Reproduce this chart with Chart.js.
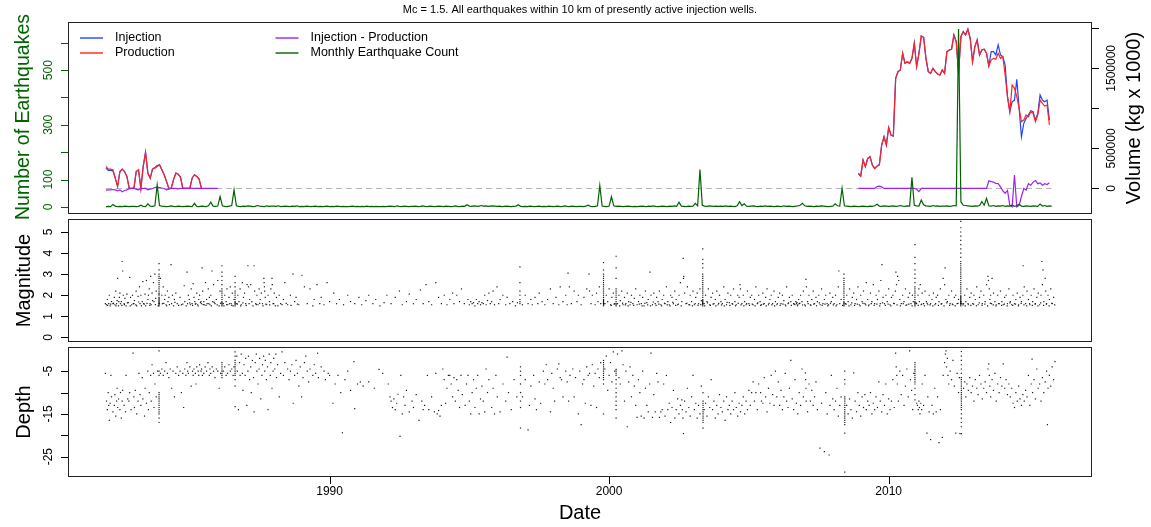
<!DOCTYPE html>
<html><head><meta charset="utf-8">
<script src="https://cdn.jsdelivr.net/npm/chart.js@4.4.1/dist/chart.umd.min.js"></script>
<style>
html,body{margin:0;padding:0;background:#fff;}
body{width:1151px;height:527px;position:relative;overflow:hidden;}
canvas{position:absolute;left:0;}
#c1{top:0}#c2{top:216px}#c3{top:345px}
</style></head><body>
<canvas id="c1" width="1151" height="226"></canvas>
<canvas id="c2" width="1151" height="130"></canvas>
<canvas id="c3" width="1151" height="182"></canvas>
<script>
// ---------------- DATA ----------------
const titleText = 'Mc = 1.5. All earthquakes within 10 km of presently active injection wells.';
const legendLabels = ['Injection', 'Production', 'Injection - Production', 'Monthly Earthquake Count'];
const xTicks = [1990, 2000, 2010];
const countTicks = [0, 100, 200, 300, 400, 500, 600];
const countTickLabels = [0, 100, 300, 500];
const volTicks = [0, 500000, 1000000, 1500000, 2000000];
const volTickLabels = [0, 500000, 1500000];
const magTicks = [0, 1, 2, 3, 4, 5];
const magTickLabels = [0, 1, 2, 3, 4, 5];
const depthTicks = [-25, -20, -15, -10, -5];
const depthTickLabels = [-25, -15, -5];

// monthly earthquake count, Jan 1982 .. Nov 2015
const countStartYear = 1982.0;
const monthlyCount = [
 1,2,1,9,3,1,2,1,3,2,1,2,
 2,1,2,6,2,1,11,3,2,4,80,5,
 3,2,1,2,4,2,1,3,2,1,2,3,
 2,1,13,2,1,3,2,1,4,17,3,2,
 3,38,4,2,1,3,5,62,4,2,1,3,
 2,4,3,1,2,5,3,2,1,4,2,3,
 3,2,4,1,2,3,2,1,3,2,4,1,
 2,1,3,2,1,2,3,1,2,1,2,3,
 1,2,1,3,2,1,2,1,1,2,3,1,
 2,1,2,1,3,1,2,1,2,1,1,2,
 1,2,3,2,1,4,2,1,3,2,1,2,
 2,3,1,2,4,2,1,3,2,1,2,3,
 2,1,3,2,1,2,4,2,1,3,2,8,
 3,2,4,3,2,5,3,4,2,3,4,3,
 2,3,1,2,3,2,1,2,3,8,2,1,
 2,1,3,2,1,2,3,1,2,1,3,2,
 1,2,3,1,2,4,2,1,3,2,1,2,
 2,1,3,6,2,1,2,4,78,3,2,1,
 3,37,4,2,3,2,1,2,3,2,1,2,
 1,2,3,2,1,3,2,4,2,1,2,3,
 2,1,3,2,4,2,17,3,2,1,3,2,
 3,13,4,137,6,3,2,4,3,2,3,2,
 3,2,4,2,3,2,1,4,19,5,11,3,
 2,3,4,2,1,3,2,4,2,3,2,1,
 3,2,1,4,2,3,2,1,3,4,6,13,
 4,2,3,2,1,3,2,4,3,2,1,2,
 3,11,4,3,68,4,3,2,1,3,2,1,
 2,3,2,1,3,2,4,10,3,2,4,3,
 2,3,4,2,3,5,3,2,4,3,108,6,
 4,3,25,8,4,3,2,5,3,4,2,3,
 3,4,2,3,5,4,650,19,6,5,4,3,
 2,4,3,5,19,6,31,4,3,5,2,4,
 3,5,2,4,3,6,2,4,10,3,2,4,
 3,2,4,3,2,10,3,5,2,4,3
];

// monthly volumes in kg x 1000 (values listed in thousands)
const volEarlyStart = 1982.0;
const productionEarly = [275,242,242,233,129,25,212,242,212,150,0,0,0,212,233,0,275,450,192,129,242,254,275,296,233,171,88,0,0,108,192,179,142,0,0,0,0,129,171,150,117,0];
const injectionEarly  = [255,225,225,220,129,25,212,242,212,150,0,0,0,212,233,0,275,450,192,129,242,262,285,296,233,171,88,0,0,108,192,179,142,0,0,0,0,129,171,150,117,0];
const diffEarly = [-20,-17,-17,-13,-17,-29,-17,-40,-25,-17,-4,0,0,-8,-17,0,0,4,-17,-8,0,10,17,12,6,0,-17,-8,0,0,0,-4,0,0,0,0,0,0,0,0,0,0,0,0,0,0,0,0,0];
const volLateStart = 2008.917;
const productionLate = [187,154,354,271,375,396,292,250,279,292,542,646,542,762,667,654,1375,1458,1479,1688,1563,1583,1563,1625,1813,1521,1688,1904,1888,1625,1458,1438,1500,1458,1429,1417,1479,1438,1708,1729,1738,1917,1833,1438,1896,1958,1917,1988,1875,1583,1771,1854,1667,1729,1738,1688,1529,1604,1625,1613,1688,1625,1646,1417,1146,958,1292,1250,1146,1000,833,854,917,896,958,938,833,917,1104,1063,1029,1042,792];
const injectionLate  = [187,154,354,271,375,396,292,250,279,300,542,646,542,762,667,654,1375,1458,1479,1688,1563,1583,1563,1625,1813,1521,1688,1904,1888,1625,1458,1438,1500,1458,1429,1417,1479,1438,1708,1729,1738,1917,1833,1438,1896,1958,1917,1988,1875,1583,1771,1854,1667,1729,1738,1688,1529,1708,1708,1667,1792,1667,1646,1542,1146,958,1083,1100,1363,1000,646,813,875,917,971,958,854,938,1167,1104,1083,1104,854];
const diffLate = [0,0,0,0,0,0,0,0,25,30,20,0,0,0,0,0,0,0,0,0,0,0,0,0,0,-10,-40,0,0,0,0,0,0,0,0,0,0,0,0,0,0,0,0,0,0,0,0,0,0,0,0,0,0,0,0,0,96,85,80,62,60,20,-30,-60,-25,-210,-230,167,-230,-210,-100,0,-20,60,40,80,100,60,70,40,60,50,70];
const zeroLineYears = [1982.0, 2015.833];

// magnitude readings: [year, magnitude, year, magnitude, ...]
const mag1982 = [1981.98,1.6,1982.02,1.55,1982.05,1.8,1982.1,1.6,1982.12,2.0,1982.15,1.5,1982.2,1.7,1982.25,1.6,1982.3,1.9,1982.32,1.55,1982.35,2.2,1982.38,1.6,1982.4,1.75,1982.42,2.8,1982.45,1.5,1982.48,1.9,1982.5,2.1,1982.52,1.6,1982.55,1.7,1982.58,3.6,1982.6,3.15,1982.62,2.0,1982.65,1.6,1982.68,1.85,1982.72,1.5,1982.75,2.05,1982.8,1.65,1982.85,2.85,1982.88,1.9,1982.92,1.55,1982.95,2.0,1983.0,1.6,1983.02,1.75,1983.08,2.2,1983.1,1.5,1983.15,1.95,1983.2,2.4,1983.22,1.6,1983.25,2.0,1983.3,1.7,1983.32,2.65,1983.35,1.6,1983.4,2.05,1983.42,1.5,1983.45,2.7,1983.5,1.8,1983.52,2.0,1983.55,2.3,1983.58,1.6,1983.6,2.9,1983.62,1.55,1983.65,2.1,1983.7,2.6,1983.72,1.7,1983.75,3.0,1983.78,1.85,1983.8,2.2,1983.95,2.8,1984.0,2.0,1984.02,1.6,1984.05,2.4,1984.1,1.8,1984.12,2.0,1984.15,1.55,1984.2,2.2,1984.22,1.7,1984.25,1.9,1984.33,3.45,1984.35,1.6,1984.38,2.0,1984.42,1.5,1984.45,1.8,1984.5,2.1,1984.55,1.6,1984.65,1.9,1984.7,1.55,1984.8,2.45,1984.82,1.7,1984.9,3.1,1984.92,1.6,1984.95,2.0,1984.98,1.8,1985.02,1.55,1985.05,2.3,1985.08,1.6,1985.12,2.55,1985.15,1.9,1985.18,1.7,1985.22,1.6,1985.25,2.1,1985.28,1.55,1985.32,1.8,1985.35,2.0,1985.38,1.65,1985.42,1.6,1985.44,3.3,1985.46,2.2,1985.5,1.7,1985.52,1.55,1985.56,2.6,1985.6,1.8,1985.62,1.6,1985.66,2.3,1985.7,1.9,1985.72,1.55,1985.75,2.0,1985.79,3.15,1985.82,1.7,1985.85,2.5,1985.9,1.6,1985.95,1.8,1986.0,2.7,1986.05,1.5,1986.08,2.2,1986.2,1.6,1986.25,2.0,1986.3,1.7,1986.33,2.3,1986.36,1.55,1986.4,1.9,1986.45,2.4,1986.48,1.6,1986.52,2.1,1986.55,1.5,1986.58,1.8,1986.68,1.6,1986.72,2.0,1986.76,1.7,1986.8,2.3,1986.84,1.55,1986.88,2.6,1986.92,1.9,1986.96,2.1,1987.0,1.6,1987.05,2.5,1987.08,3.4,1987.1,2.4,1987.14,1.8,1987.18,2.5,1987.22,1.7,1987.3,3.4,1987.32,2.2,1987.36,1.6,1987.4,2.0,1987.44,1.55,1987.48,2.3,1987.52,1.8,1987.56,2.1,1987.6,1.6,1987.65,2.8,1987.66,2.6,1987.67,2.4,1987.68,2.2,1987.7,1.9,1987.75,1.55,1987.8,2.0,1987.85,1.7,1987.9,2.3,1987.94,2.8,1987.95,2.5,1987.98,1.6,1988.02,2.1,1988.06,1.5,1988.1,1.9,1988.2,2.0,1988.25,1.6,1988.35,1.8,1988.4,2.6,1988.5,1.55,1988.6,2.0,1988.69,3.0,1988.75,1.7,1988.8,1.9,1988.9,1.55,1989.01,2.95,1989.1,2.4,1989.2,1.6,1989.3,2.3,1989.4,1.5,1989.45,1.8,1989.55,2.5,1989.65,1.6,1989.7,1.9,1989.8,1.55,1989.91,2.6,1990.0,1.7];
const magLow1982 = [1982.06,1.52,1982.17,1.58,1982.27,1.62,1982.36,1.5,1982.46,1.7,1982.57,1.52,1982.66,1.56,1982.77,1.64,1982.87,1.5,1982.98,1.6,1983.07,1.54,1983.17,1.68,1983.27,1.5,1983.37,1.58,1983.47,1.62,1983.57,1.52,1983.67,1.75,1983.77,1.56,1983.87,1.5,1984.07,1.62,1984.17,1.5,1984.27,1.56,1984.47,1.66,1984.6,1.52,1984.75,1.58,1984.87,1.5,1985.0,1.64,1985.1,1.52,1985.2,1.58,1985.3,1.5,1985.4,1.7,1985.48,1.56,1985.58,1.52,1985.68,1.6,1985.77,1.5,1985.87,1.66,1985.98,1.54,1986.1,1.62,1986.22,1.5,1986.32,1.56,1986.42,1.6,1986.5,1.52,1986.7,1.58,1986.82,1.5,1986.9,1.64,1987.02,1.52,1987.12,1.6,1987.26,1.5,1987.38,1.56,1987.5,1.62,1987.62,1.5,1987.72,1.58,1987.86,1.54,1988.0,1.6,1988.15,1.5,1988.3,1.56,1988.45,1.62,1988.62,1.52,1988.85,1.58];
const mag1990 = [1990.15,2.1,1990.25,1.6,1990.35,1.8,1990.5,1.55,1990.65,2.0,1990.75,1.7,1990.9,1.6,1991.05,1.9,1991.15,1.55,1991.3,1.75,1991.4,2.0,1991.55,1.6,1991.65,1.8,1991.8,1.5,1991.95,1.65,1992.05,2.0,1992.2,1.6,1992.35,1.9,1992.5,2.2,1992.6,1.55,1992.75,1.7,1992.85,2.05,1993.0,1.6,1993.1,1.8,1993.25,2.25,1993.35,1.6,1993.45,2.5,1993.55,1.7,1993.65,1.55,1993.8,2.6,1993.9,1.9,1994.0,1.6,1994.1,2.0,1994.2,1.55,1994.3,1.8,1994.4,2.1,1994.45,1.6,1994.55,2.0,1994.65,1.7,1994.72,2.3,1994.82,1.6,1994.95,1.8,1995.0,1.55,1995.05,1.7,1995.1,1.6,1995.15,1.65,1995.2,1.5,1995.25,1.8,1995.3,1.6,1995.35,1.7,1995.4,1.55,1995.45,1.65,1995.5,1.6,1995.55,2.0,1995.6,1.55,1995.65,1.75,1995.7,2.1,1995.75,1.6,1995.8,1.7,1995.85,2.2,1995.9,1.55,1995.99,2.4,1996.05,1.6,1996.1,1.8,1996.2,2.0,1996.3,1.55,1996.35,1.9,1996.45,1.6,1996.55,1.7,1996.65,1.5,1996.72,1.65,1996.9,1.55,1997.0,2.0,1997.1,1.6,1997.2,1.8,1997.25,1.55,1997.35,1.9,1997.45,1.6,1997.5,2.1,1997.6,1.7,1997.7,1.55,1997.8,1.8,1997.9,2.3,1998.0,1.6,1998.1,1.9,1998.2,1.55,1998.25,2.4,1998.35,1.7,1998.45,2.0,1998.5,1.55,1998.53,3.05,1998.58,2.4,1998.65,1.6,1998.75,2.2,1998.85,1.7,1998.9,2.0,1999.0,1.55,1999.1,1.9,1999.2,2.3,1999.28,3.0,1999.3,2.2,1999.35,1.6,1999.4,2.0,1999.5,1.55,1999.55,2.1,1999.6,1.7,1999.65,2.4,1999.7,1.6];
const mag2000 = [1999.85,1.6,1999.9,2.0,1999.95,1.7,2000.0,2.3,2000.05,1.55,2000.1,1.9,2000.15,2.1,2000.2,1.6,2000.3,1.6,2000.35,2.0,2000.4,1.75,2000.45,2.2,2000.5,1.55,2000.55,1.9,2000.6,1.6,2000.65,2.1,2000.7,1.7,2000.75,1.55,2000.8,2.0,2000.85,1.6,2000.9,1.85,2000.95,2.3,2001.0,1.55,2001.05,1.7,2001.1,2.0,2001.15,1.6,2001.2,1.9,2001.25,1.5,2001.3,2.2,2001.35,1.65,2001.4,1.8,2001.46,3.1,2001.5,2.0,2001.55,1.55,2001.6,2.1,2001.65,1.6,2001.7,1.9,2001.75,1.7,2001.8,2.2,2001.85,1.55,2001.9,1.8,2001.95,2.0,2002.0,1.6,2002.05,2.4,2002.1,1.7,2002.15,1.55,2002.2,2.0,2002.25,1.9,2002.3,1.6,2002.35,2.2,2002.4,1.8,2002.45,1.55,2002.5,2.0,2002.55,2.6,2002.6,1.7,2002.65,3.75,2002.66,2.8,2002.67,2.9,2002.7,2.1,2002.75,1.6,2002.8,2.4,2002.85,1.55,2002.9,2.0,2002.95,1.7,2003.0,2.2,2003.05,1.55,2003.1,1.9,2003.15,2.1,2003.2,1.6,2003.25,2.3,2003.3,1.75,2003.4,1.6,2003.45,2.0,2003.5,1.7,2003.55,2.3,2003.6,1.55,2003.65,1.9,2003.7,2.1,2003.75,1.6,2003.8,1.8,2003.85,2.2,2003.9,1.55,2003.95,2.0,2004.0,1.7,2004.05,1.6,2004.1,2.4,2004.15,1.8,2004.2,1.55,2004.25,2.1,2004.3,1.65,2004.35,2.0,2004.4,1.6,2004.45,2.3,2004.5,1.7,2004.55,1.55,2004.6,2.0,2004.65,1.9,2004.68,2.5,2004.7,2.3,2004.75,1.6,2004.8,2.0,2004.85,1.7,2004.9,1.55,2004.95,2.2,2005.0,1.6,2005.05,1.9,2005.1,2.0,2005.15,1.55,2005.2,1.8,2005.25,2.4,2005.3,1.6,2005.35,2.0,2005.4,1.7,2005.45,1.55,2005.5,2.1,2005.55,1.6,2005.6,1.9,2005.65,2.3,2005.7,1.55,2005.75,1.8,2005.8,2.0,2005.85,1.6,2005.9,2.2,2005.95,1.7,2006.0,1.55,2006.05,1.9,2006.1,2.1,2006.15,1.6,2006.2,2.0,2006.25,1.75,2006.3,1.55,2006.35,2.4,2006.4,1.6,2006.45,1.9,2006.5,1.7,2006.55,2.0,2006.6,1.6,2006.65,1.55,2006.68,1.7,2006.7,1.6,2006.72,1.65,2006.75,1.55,2006.78,1.8,2006.8,1.6,2006.85,2.0,2006.9,1.7,2006.95,2.2,2007.0,1.55,2007.04,2.75,2007.06,2.4,2007.1,1.7,2007.15,2.0,2007.2,1.55,2007.25,1.8,2007.3,2.2,2007.35,1.6,2007.4,1.9,2007.45,1.7,2007.5,2.0,2007.55,1.55,2007.6,2.3,2007.65,1.6,2007.7,1.8,2007.75,2.0,2007.8,1.6,2007.85,1.55,2007.9,2.1,2007.95,1.7,2008.0,1.9,2008.05,1.6,2008.1,2.0,2008.15,1.55,2008.2,2.4,2008.22,3.15,2008.3,1.8];
const mag2008 = [2008.45,1.6,2008.5,2.0,2008.55,1.7,2008.6,2.3,2008.65,1.55,2008.7,1.9,2008.75,2.1,2008.8,1.6,2008.85,1.8,2008.9,2.4,2008.95,1.55,2009.0,2.0,2009.05,1.7,2009.1,2.2,2009.15,1.6,2009.2,2.6,2009.25,1.8,2009.3,1.55,2009.35,2.1,2009.4,1.7,2009.45,2.5,2009.5,1.6,2009.55,2.0,2009.6,1.8,2009.65,2.2,2009.7,1.6,2009.72,2.7,2009.76,3.45,2009.8,1.9,2009.85,1.6,2009.9,2.0,2009.95,1.7,2010.0,2.3,2010.05,1.55,2010.1,1.9,2010.15,2.0,2010.2,1.6,2010.24,2.2,2010.26,3.1,2010.28,2.5,2010.32,2.9,2010.36,2.7,2010.4,1.8,2010.45,1.6,2010.5,2.0,2010.55,1.7,2010.6,2.3,2010.65,1.55,2010.7,1.9,2010.75,2.1,2010.8,1.6,2010.85,2.0,2010.88,1.7,2011.0,1.6,2011.05,2.0,2011.08,2.3,2011.1,1.7,2011.13,2.5,2011.16,1.55,2011.2,2.1,2011.25,1.6,2011.3,2.2,2011.35,1.7,2011.4,1.55,2011.45,2.0,2011.5,1.6,2011.55,1.8,2011.6,2.1,2011.65,1.55,2011.7,1.9,2011.75,2.0,2011.8,1.7,2011.85,2.3,2011.9,1.6,2011.95,2.8,2012.0,2.5,2012.02,3.3,2012.05,1.8,2012.1,1.7,2012.15,2.0,2012.2,1.6,2012.25,2.2,2012.3,1.55,2012.35,1.9,2012.4,2.0,2012.45,1.6,2012.5,1.8,2012.62,1.6,2012.68,1.6,2012.72,2.0,2012.76,1.7,2012.8,2.3,2012.85,1.55,2012.9,1.9,2012.95,2.1,2013.0,1.6,2013.05,2.0,2013.1,1.8,2013.15,2.4,2013.2,1.55,2013.25,1.9,2013.3,2.2,2013.35,1.6,2013.4,2.0,2013.45,1.7,2013.5,2.5,2013.55,2.9,2013.57,2.7,2013.6,2.3,2013.62,1.8,2013.65,2.0,2013.68,1.6,2013.7,2.8,2013.75,2.1,2013.8,1.7,2013.85,1.55,2013.9,2.0,2013.95,1.6,2014.0,2.2,2014.05,1.7,2014.1,1.55,2014.15,1.9,2014.2,2.0,2014.25,1.6,2014.3,2.3,2014.35,1.7,2014.4,1.55,2014.45,2.0,2014.5,1.6,2014.55,1.8,2014.6,2.1,2014.65,1.55,2014.7,1.9,2014.75,1.7,2014.8,2.0,2014.81,3.4,2014.85,2.4,2014.9,1.6,2014.95,2.2,2015.0,1.8,2015.05,1.55,2015.1,2.0,2015.15,1.7,2015.2,2.3,2015.25,1.6,2015.3,1.9,2015.35,2.1,2015.4,1.55,2015.45,2.0,2015.48,3.6,2015.5,2.5,2015.52,3.2,2015.55,1.7,2015.6,2.8,2015.62,2.2,2015.65,1.6,2015.7,2.0,2015.75,1.8,2015.8,2.3,2015.85,1.6,2015.9,1.9];
const magLow2000 = [2000.08,1.52,2000.18,1.58,2000.38,1.5,2000.48,1.62,2000.58,1.54,2000.68,1.5,2000.78,1.66,2000.88,1.52,2001.08,1.58,2001.18,1.5,2001.28,1.62,2001.38,1.54,2001.48,1.5,2001.58,1.68,2001.68,1.52,2001.78,1.58,2001.88,1.5,2001.98,1.62,2002.08,1.54,2002.18,1.5,2002.28,1.66,2002.38,1.52,2002.48,1.58,2002.58,1.5,2002.78,1.62,2002.88,1.54,2002.98,1.5,2003.08,1.6,2003.18,1.52,2003.28,1.56,2003.42,1.5,2003.52,1.64,2003.62,1.52,2003.72,1.58,2003.82,1.5,2003.92,1.62,2004.02,1.54,2004.12,1.5,2004.22,1.66,2004.32,1.52,2004.42,1.58,2004.52,1.5,2004.62,1.62,2004.72,1.54,2004.82,1.5,2004.92,1.6,2005.02,1.52,2005.12,1.58,2005.22,1.5,2005.32,1.64,2005.42,1.52,2005.52,1.58,2005.62,1.5,2005.72,1.62,2005.82,1.54,2005.92,1.5,2006.02,1.6,2006.12,1.52,2006.22,1.58,2006.32,1.5,2006.42,1.64,2006.52,1.52,2006.62,1.58,2006.74,1.5,2006.82,1.62,2006.92,1.54,2007.02,1.5,2007.12,1.6,2007.22,1.52,2007.32,1.58,2007.42,1.5,2007.52,1.64,2007.62,1.52,2007.72,1.58,2007.82,1.5,2007.92,1.62,2008.02,1.54,2008.12,1.5,2008.25,1.6,2008.35,1.52,2008.48,1.58,2008.58,1.5,2008.68,1.64,2008.78,1.52,2008.88,1.58,2008.98,1.5,2009.08,1.62,2009.18,1.54,2009.28,1.5,2009.38,1.6,2009.48,1.52,2009.58,1.58,2009.68,1.5,2009.78,1.64,2009.88,1.52,2009.98,1.58,2010.08,1.5,2010.18,1.62,2010.3,1.54,2010.42,1.5,2010.52,1.6,2010.62,1.52,2010.72,1.58,2010.84,1.5,2010.98,1.64,2011.06,1.52,2011.18,1.58,2011.28,1.5,2011.38,1.62,2011.48,1.54,2011.58,1.5,2011.68,1.6,2011.78,1.52,2011.88,1.58,2011.98,1.5,2012.08,1.64,2012.18,1.52,2012.28,1.58,2012.38,1.5,2012.48,1.62,2012.66,1.54,2012.74,1.5,2012.84,1.6,2012.94,1.52,2013.04,1.58,2013.14,1.5,2013.24,1.64,2013.34,1.52,2013.44,1.58,2013.54,1.5,2013.64,1.62,2013.74,1.54,2013.84,1.5,2013.94,1.6,2014.04,1.52,2014.14,1.58,2014.24,1.5,2014.34,1.64,2014.44,1.52,2014.54,1.58,2014.64,1.5,2014.74,1.62,2014.84,1.54,2014.94,1.5,2015.04,1.6,2015.14,1.52,2015.24,1.58,2015.34,1.5,2015.44,1.64,2015.54,1.52,2015.64,1.58,2015.74,1.5,2015.84,1.62,2015.94,1.54];
// swarm columns: [year, [magnitudes...]]
const magSwarms = [
 [1983.9, [1.5,1.55,1.6,1.6,1.65,1.7,1.75,1.8,1.85,1.9,2.0,2.05,2.1,2.2,2.3,2.4,2.5,2.6,2.7,2.8,2.9,3.0,3.2,3.5]],
 [1986.15, [1.5,1.55,1.6,1.65,1.7,1.8,1.9,2.0,2.1,2.2,2.3,2.5,2.7,2.9,3.1,3.4]],
 [1986.62, [1.5,1.55,1.6,1.65,1.7,1.8,1.9,2.0,2.1,2.2,2.4,2.6,2.9]],
 [1996.81, [1.6,1.7,1.8,2.0,2.2,2.6,3.35]],
 [1999.8, [1.5,1.55,1.6,1.6,1.65,1.7,1.75,1.8,1.9,2.0,2.1,2.2,2.3,2.4,2.5,2.6,2.7,2.8,2.9,3.0,3.2,3.55]],
 [2000.25, [1.5,1.55,1.6,1.7,1.8,1.9,2.0,2.1,2.2,2.3,2.8,3.3,3.85]],
 [2003.35, [1.5,1.55,1.6,1.6,1.65,1.7,1.75,1.8,1.9,2.0,2.1,2.2,2.3,2.4,2.5,2.6,2.7,2.8,2.9,3.0,3.3,3.5,3.7,4.2]],
 [2008.4, [1.5,1.55,1.6,1.65,1.7,1.8,1.9,2.0,2.1,2.2,2.3,2.4,2.5,2.6,2.7,2.8,3.0]],
 [2010.94, [1.5,1.55,1.6,1.65,1.7,1.8,1.9,2.0,2.1,2.2,2.3,2.4,2.6,2.8,3.0,3.2,3.5,3.8,4.4]],
 [2012.58, [1.5,1.55,1.6,1.6,1.65,1.7,1.7,1.75,1.8,1.85,1.9,1.95,2.0,2.1,2.2,2.3,2.4,2.5,2.6,2.7,2.8,2.9,3.0,3.1,3.2,3.3,3.4,3.5,3.6,3.8,4.0,4.2,4.4,4.6,4.8,5.0,5.2,5.5]]
];

// depth readings: [year, depth, ...]
const depth1982 = [1981.98,-5.5,1982.02,-12,1982.05,-14,1982.08,-10,1982.1,-13,1982.12,-16.5,1982.15,-12.5,1982.18,-6,1982.2,-11,1982.25,-14.5,1982.3,-13,1982.32,-10.5,1982.35,-15.5,1982.38,-12,1982.4,-9,1982.42,-13.5,1982.45,-11.5,1982.5,-14,1982.52,-10,1982.55,-16,1982.58,-12,1982.6,-9.5,1982.65,-13,1982.7,-14.5,1982.72,-6,1982.78,-11.5,1982.82,-12,1982.85,-10,1982.9,-14,1982.97,-0.8,1983.0,-11,1983.02,-13.5,1983.05,-9.5,1983.1,-15,1983.15,-12,1983.18,-5.5,1983.22,-10.5,1983.25,-13,1983.3,-6.5,1983.32,-11.5,1983.38,-15.5,1983.4,-9,1983.45,-12.5,1983.5,-5,1983.52,-14,1983.55,-10,1983.6,-6,1983.62,-12,1983.65,-3.5,1983.7,-5.5,1983.72,-13.5,1983.75,-8,1983.8,-11,1983.85,-5,1983.95,-5.5,1984.0,-4.5,1984.05,-6,1984.1,-5,1984.15,-3,1984.2,-5.5,1984.25,-6.5,1984.3,-4.5,1984.35,-9,1984.4,-5,1984.45,-11,1984.5,-5.5,1984.55,-4,1984.6,-6,1984.65,-5,1984.7,-10,1984.75,-5.5,1984.78,-13.5,1984.82,-4.5,1984.86,-6,1984.9,-3,1984.92,-5,1984.95,-5.5,1985.0,-4,1985.05,-8.5,1985.1,-5,1985.12,-6,1985.15,-4.5,1985.2,-5.5,1985.22,-8,1985.25,-4,1985.3,-5,1985.32,-6,1985.35,-3.5,1985.4,-5,1985.42,-4.5,1985.45,-6,1985.5,-5.5,1985.55,-4,1985.6,-5,1985.65,-3,1985.7,-6,1985.72,-4.5,1985.75,-5.5,1985.8,-4,1985.85,-5,1985.9,-6.5,1985.95,-4.5,1986.0,-5,1986.05,-9,1986.1,-5.5,1986.2,-5,1986.25,-4,1986.3,-6,1986.35,-5.5,1986.4,-3.5,1986.45,-5,1986.5,-4.5,1986.55,-6,1986.58,-4,1986.68,-1.5,1986.7,-5,1986.74,-14,1986.78,-3,1986.8,-6,1986.84,-1,1986.88,-5.5,1986.9,-9.5,1986.94,-3.5,1986.98,-6,1987.0,-2,1987.04,-13,1987.08,-5,1987.1,-1.5,1987.14,-7,1987.18,-4,1987.2,-10,1987.24,-2.5,1987.28,-6.5,1987.3,-14.5,1987.34,-3,1987.38,-1,1987.4,-5,1987.44,-8,1987.48,-4.5,1987.5,-2,1987.54,-11.5,1987.58,-6,1987.6,-3.5,1987.64,-1.5,1987.68,-5,1987.7,-2.5,1987.74,-7,1987.78,-4,1987.8,-14,1987.84,-1,1987.88,-6,1987.9,-3,1987.94,-9,1987.98,-5,1988.0,-2,1988.04,-4.5,1988.08,-1,1988.1,-6.5,1988.14,-3.5,1988.2,-11,1988.25,-5.5,1988.3,-0.5,1988.35,-6,1988.4,-3,1988.5,-4.5,1988.55,-7,1988.6,-5,1988.65,-3.5,1988.7,-12.5,1988.75,-6,1988.8,-2.5,1988.85,-5.5,1988.9,-8.5,1988.95,-4,1989.0,-11,1989.05,-6.5,1989.1,-3,1989.15,-1.5,1989.2,-5,1989.25,-7.5,1989.3,-4.5,1989.4,-6,1989.45,-3.5,1989.5,-5.5,1989.57,-0.8,1989.6,-6.5,1989.7,-4,1989.8,-5,1989.85,-7,1989.95,-5.5,1990.0,-6];
const depth1990 = [1990.12,-12.5,1990.2,-8,1990.3,-6,1990.4,-10,1990.46,-19.4,1990.55,-7,1990.65,-5,1990.75,-9.5,1990.87,-2.75,1990.9,-13.75,1991.0,-8,1991.1,-7.5,1991.2,-8.5,1991.4,-7.5,1991.6,-9,1991.77,-4.6,1991.9,-5.5,1992.1,-8,1992.16,-11,1992.2,-12,1992.25,-13.5,1992.3,-11.5,1992.35,-14,1992.4,-12.5,1992.45,-10.4,1992.52,-20.25,1992.55,-6,1992.6,-15,1992.65,-11,1992.7,-13,1992.75,-9.5,1992.85,-14.5,1992.95,-12,1993.0,-13.5,1993.1,-10.5,1993.2,-16.5,1993.3,-12,1993.35,-14,1993.4,-13,1993.5,-6,1993.55,-14,1993.65,-11,1993.75,-14.5,1993.8,-5.5,1993.85,-15,1993.9,-14.2,1993.95,-15.5,1994.0,-13,1994.05,-4.5,1994.1,-7,1994.15,-12.5,1994.2,-9,1994.25,-6,1994.3,-6,1994.35,-8,1994.4,-11,1994.45,-6.5,1994.5,-12,1994.55,-7,1994.6,-9.5,1994.65,-13.5,1994.7,-6,1994.75,-10.5,1994.85,-13,1994.9,-8,1994.95,-6,1995.0,-12,1995.05,-15,1995.1,-10,1995.15,-7,1995.2,-13.5,1995.25,-9,1995.3,-6,1995.35,-15,1995.4,-11.5,1995.45,-8.5,1995.5,-12,1995.55,-14.5,1995.6,-4.5,1995.65,-10,1995.7,-7,1995.8,-13.5,1995.85,-9,1995.9,-15,1995.95,-6,1996.0,-11,1996.1,-14.5,1996.2,-8,1996.3,-12,1996.35,-1.7,1996.4,-10,1996.5,-14,1996.6,-7,1996.7,-11,1996.9,-11,1997.0,-7,1997.1,-18.75,1997.15,-13,1997.2,-8.5,1997.3,-6,1997.35,-11.5,1997.4,-14,1997.5,-7.5,1997.55,-12.5,1997.65,-5,1997.7,-8,1997.75,-3.5,1997.8,-7,1997.9,-14.5,1997.95,-5.5,1998.0,-9,1998.05,-12,1998.15,-4.5,1998.2,-3.3,1998.25,-6.5,1998.3,-7,1998.35,-11,1998.45,-5,1998.5,-7.5,1998.55,-12,1998.6,-6,1998.7,-4.5,1998.75,-11,1998.8,-6.5,1998.9,-15,1998.95,-5,1999.0,-17.5,1999.05,-8,1999.1,-7,1999.15,-12.5,1999.2,-4,1999.25,-6,1999.3,-5.5,1999.35,-13,1999.4,-3.5,1999.45,-8.5,1999.5,-5.5,1999.55,-13.5,1999.6,-4.5,1999.65,-6.5,1999.7,-3];
const depth2000 = [1999.85,-4.5,1999.9,-1.5,1999.95,-9.5,2000.0,-6,2000.05,-3,2000.1,-7.5,2000.15,-0.5,2000.2,-5,2000.3,-1,2000.35,-6.5,2000.4,-8,2000.46,-0.25,2000.5,-3.5,2000.55,-12,2000.6,-5,2000.65,-18,2000.7,-7.5,2000.75,-4,2000.8,-11,2000.85,-6,2000.9,-8.5,2000.95,-13,2001.0,-15.8,2001.05,-7,2001.1,-10,2001.15,-15.5,2001.2,-5,2001.25,-16,2001.3,-9,2001.35,-13,2001.4,-14.5,2001.45,-8,2001.5,-0.8,2001.55,-15.8,2001.6,-10.5,2001.65,-14.5,2001.7,-5.5,2001.75,-7.5,2001.8,-15.8,2001.85,-14.5,2001.9,-14,2001.95,-8,2002.0,-15.5,2002.05,-6,2002.1,-14,2002.15,-12.5,2002.2,-17,2002.25,-13.5,2002.3,-9.5,2002.35,-16,2002.4,-14,2002.45,-11.5,2002.5,-15,2002.55,-13,2002.6,-11.7,2002.62,-14,2002.64,-16,2002.66,-19.6,2002.7,-12,2002.75,-14.5,2002.8,-9,2002.85,-13.5,2002.9,-15.5,2002.95,-11,2003.0,-6,2003.05,-14,2003.1,-12.5,2003.15,-16,2003.2,-13,2003.25,-15,2003.3,-8.5,2003.4,-14,2003.45,-12.5,2003.5,-15.5,2003.55,-11,2003.6,-13.5,2003.65,-7,2003.7,-14,2003.75,-12,2003.8,-16,2003.85,-13,2003.9,-15,2003.95,-10.5,2004.0,-13.5,2004.05,-14.5,2004.1,-12,2004.15,-16.5,2004.2,-11,2004.25,-14,2004.3,-13,2004.35,-15,2004.4,-12,2004.45,-14,2004.5,-10,2004.55,-13.5,2004.6,-15.5,2004.65,-12.5,2004.7,-14.5,2004.75,-13,2004.8,-11,2004.85,-15,2004.9,-12,2004.95,-14,2005.0,-9.5,2005.05,-13,2005.1,-10,2005.15,-7.5,2005.2,-12,2005.25,-10,2005.3,-14,2005.35,-8,2005.42,-10,2005.45,-12,2005.5,-12.5,2005.55,-6.5,2005.6,-11,2005.65,-14.5,2005.7,-9,2005.75,-12.5,2005.8,-6,2005.85,-10.5,2005.9,-13,2005.95,-5,2006.0,-11,2006.05,-7.5,2006.1,-13,2006.15,-9.5,2006.2,-14,2006.25,-11,2006.3,-5.5,2006.35,-12,2006.4,-13.5,2006.45,-9,2006.5,-2.5,2006.55,-11.5,2006.6,-14,2006.65,-7,2006.7,-12.5,2006.75,-15,2006.8,-10,2006.85,-13,2006.9,-4.5,2006.95,-11,2007.02,-5.4,2007.03,-7,2007.04,-9,2007.05,-12,2007.1,-14.5,2007.15,-8,2007.2,-12,2007.25,-9.5,2007.3,-13,2007.35,-11,2007.4,-7.5,2007.45,-14,2007.54,-23,2007.6,-12.5,2007.7,-23.8,2007.75,-10,2007.8,-15,2007.87,-24.6,2007.9,-13,2007.95,-6,2008.0,-11.5,2008.05,-14,2008.1,-12,2008.15,-9,2008.2,-15.5,2008.25,-13,2008.3,-11];
const depth2008 = [2008.5,-13,2008.55,-15,2008.6,-11.5,2008.65,-14,2008.7,-16,2008.75,-5.4,2008.8,-12,2008.85,-14.5,2008.9,-10,2008.95,-13,2009.0,-15.5,2009.05,-11,2009.1,-13.5,2009.15,-10.5,2009.2,-14,2009.25,-12,2009.3,-13,2009.35,-10,2009.4,-15,2009.45,-12.5,2009.5,-14,2009.55,-11,2009.6,-13.5,2009.65,-7.5,2009.7,-12,2009.75,-14.5,2009.8,-10.5,2009.85,-13,2009.9,-8,2009.95,-15,2010.0,-11.5,2010.05,-14,2010.1,-12,2010.15,-7,2010.2,-13.5,2010.25,-0.8,2010.27,-4,2010.29,-6,2010.31,-8,2010.35,-12,2010.4,-5,2010.45,-10.5,2010.5,-6,2010.55,-13,2010.6,-8.5,2010.65,-4.5,2010.7,-11,2010.75,-0.25,2010.78,-7,2010.82,-9.5,2010.86,-14,2010.9,-5.5,2011.0,-12.5,2011.03,-13,2011.06,-14,2011.08,-12,2011.1,-13.5,2011.12,-15,2011.15,-12.5,2011.18,-14,2011.2,-8,2011.25,-13,2011.3,-6,2011.37,-19.5,2011.4,-11,2011.45,-14.5,2011.5,-21,2011.55,-13,2011.6,-15,2011.65,-9,2011.7,-14.5,2011.75,-11,2011.8,-21.7,2011.85,-14,2011.92,-20.5,2011.95,-6,2012.0,-3,2012.03,-1,2012.05,-0.25,2012.07,-4,2012.1,-2,2012.12,-6,2012.15,-8,2012.2,-5,2012.25,-7,2012.3,-2.5,2012.35,-8.5,2012.4,-19.5,2012.45,-5.5,2012.5,-10,2012.53,-6.5,2012.55,-19.6,2012.68,-9,2012.72,-7.5,2012.76,-11,2012.8,-8,2012.85,-9.5,2012.9,-6.5,2012.95,-10,2013.0,-8.5,2013.05,-12,2013.1,-7,2013.15,-9,2013.2,-10.5,2013.25,-6,2013.3,-8,2013.35,-11.5,2013.4,-9,2013.45,-7.5,2013.5,-10,2013.55,-4.5,2013.58,-3.3,2013.6,-6,2013.62,-8.5,2013.65,-11,2013.7,-7,2013.75,-9.5,2013.8,-5.5,2013.85,-12,2013.9,-8,2013.95,-10,2014.0,-6.5,2014.05,-8.5,2014.1,-3.3,2014.15,-9,2014.2,-7,2014.25,-10.5,2014.3,-8,2014.35,-11,2014.4,-9,2014.45,-12.5,2014.5,-13.5,2014.55,-10,2014.6,-12,2014.65,-8.5,2014.7,-11.5,2014.75,-13,2014.8,-10.5,2014.85,-12,2014.9,-9.5,2014.95,-11,2015.0,-6,2015.05,-13,2015.1,-8,2015.13,-2.2,2015.15,-10,2015.2,-7,2015.25,-11.5,2015.3,-4.5,2015.35,-9,2015.4,-8,2015.45,-12,2015.5,-6.5,2015.55,-10,2015.6,-7.5,2015.65,-5,2015.68,-17.5,2015.7,-9,2015.75,-6,2015.8,-8.5,2015.85,-4,2015.9,-7,2015.95,-2.75];
const depthSwarms = [
 [1983.9, [-0.25,-5,-6,-10,-10.5,-11,-11.5,-12,-12.5,-13,-13.5,-14,-14.5,-15,-16,-17]],
 [1986.15, [-3,-3.5,-4,-4.5,-5,-5.5,-6,-6.5]],
 [1986.62, [-0.5,-1.5,-2.5,-3,-3.5,-4,-4.5,-5,-5.5,-6,-7,-8.5,-13.3]],
 [1996.83, [-4,-5,-6,-8,-10,-12,-13.5,-18.3]],
 [1999.8, [-2.5,-3,-3.5,-4,-4.5,-5,-5.5,-6,-6.5,-7,-8,-15]],
 [2000.25, [-4.6,-5,-5.5,-6,-7,-8,-9,-10,-11,-12,-13,-14,-16]],
 [2003.36, [-10,-12,-12.5,-13,-13.5,-14,-14.5,-15,-15.5,-16,-16.5,-17,-18.3]],
 [2008.43, [-5,-7,-8,-11,-11.5,-12,-12.5,-13,-13.5,-14,-14.5,-15,-15.5,-16,-16.5,-17,-17.5,-19.5,-28.6]],
 [2010.94, [-3,-3.5,-4,-4.6,-5,-5.5,-6,-6.5,-7,-7.5,-8,-9,-10.5,-11.7]],
 [2012.6, [-0.4,-1.5,-2.5,-3.5,-4.5,-5.5,-6.5,-7,-7.5,-8,-8.5,-9,-9.5,-10,-10.5,-11,-11.5,-12,-12.5,-13,-13.5,-14,-15,-16,-17,-18,-19.6]]
];

// ---------------- BUILD ----------------
Chart.defaults.font.family = '"Liberation Sans", Arial, Helvetica, sans-serif';
Chart.defaults.color = '#000';
const FONT = '"Liberation Sans", Arial, Helvetica, sans-serif';
const X_MIN = 1980.643, X_MAX = 2017.274;
const C_INJ = '#2244ff', C_PROD = '#ff2222', C_DIFF = '#a020f0', C_CNT = '#006400', C_ZERO = '#b3b3b3';

function monthly(start, vals, k) { return vals.map((v, i) => ({ x: start + i / 12, y: v * k })); }
function pairs(flat) { const p = []; for (let i = 0; i < flat.length; i += 2) p.push({ x: flat[i], y: flat[i + 1] }); return p; }
function swarms(list) { const p = []; list.forEach(([t, vs]) => vs.forEach(v => p.push({ x: t, y: v }))); return p; }

function rAxes(spec) {
  return {
    id: 'rAxes',
    afterDraw(chart) {
      const ctx = chart.ctx, a = chart.chartArea;
      ctx.save();
      ctx.lineWidth = 1;
      (spec.axes || []).forEach(ax => {
        const sc = chart.scales[ax.scale];
        ctx.strokeStyle = ax.color; ctx.fillStyle = ax.color;
        ctx.font = '12px ' + FONT;
        ax.ticks.forEach(v => {
          const p = Math.round(sc.getPixelForValue(v)) + 0.5;
          ctx.beginPath();
          if (ax.side === 'left') { ctx.moveTo(a.left - 7, p); ctx.lineTo(a.left, p); }
          else if (ax.side === 'right') { ctx.moveTo(a.right, p); ctx.lineTo(a.right + 7, p); }
          else { ctx.moveTo(p, a.bottom); ctx.lineTo(p, a.bottom + 7); }
          ctx.stroke();
        });
        ax.labels.forEach(v => {
          const p = sc.getPixelForValue(v);
          ctx.save();
          ctx.textAlign = 'center'; ctx.textBaseline = 'middle';
          if (ax.side === 'left') { ctx.translate(a.left - 19, p); ctx.rotate(-Math.PI / 2); ctx.fillText(String(v), 0, 0); }
          else if (ax.side === 'right') { ctx.translate(a.right + 20, p); ctx.rotate(-Math.PI / 2); ctx.fillText(String(v), 0, 0); }
          else { ctx.fillText(String(v), p, a.bottom + 15); }
          ctx.restore();
        });
        if (ax.title) {
          ctx.save();
          ctx.font = (ax.titleSize || 20) + 'px ' + FONT; ctx.fillStyle = ax.color;
          ctx.textAlign = 'center'; ctx.textBaseline = 'middle';
          const mid = (a.top + a.bottom) / 2 + (ax.titleShift || 0);
          if (ax.side === 'left') { ctx.translate(a.left - 44, mid); ctx.rotate(-Math.PI / 2); ctx.fillText(ax.title, 0, 0); }
          else if (ax.side === 'right') { ctx.translate(a.right + 42, mid); ctx.rotate(-Math.PI / 2); ctx.fillText(ax.title, 0, 0); }
          else { ctx.fillText(ax.title, (a.left + a.right) / 2, a.bottom + 36); }
          ctx.restore();
        }
      });
      // box
      ctx.strokeStyle = '#222';
      ctx.strokeRect(Math.round(a.left) + 0.5, Math.round(a.top) + 0.5, Math.round(a.right - a.left) - 1, Math.round(a.bottom - a.top) - 1);
      if (spec.extra) spec.extra(chart, ctx, a);
      ctx.restore();
    }
  };
}

const baseOpts = (pad, scales) => ({
  responsive: false, animation: false, devicePixelRatio: 1,
  layout: { padding: pad, autoPadding: false },
  plugins: { legend: { display: false }, tooltip: { enabled: false }, title: { display: false } },
  events: [],
  scales
});

// ---- Panel 1: counts and volumes
const lineDs = (label, data, color, axis, extra) => Object.assign({
  label, data, borderColor: color, borderWidth: 1.2, pointRadius: 0, tension: 0, fill: false, yAxisID: axis
}, extra || {});

new Chart(document.getElementById('c1'), {
  type: 'line',
  data: {
    datasets: [
      lineDs(legendLabels[3], monthly(countStartYear, monthlyCount, 1), C_CNT, 'yc'),
      lineDs(legendLabels[2], monthly(volEarlyStart, diffEarly, 1000), C_DIFF, 'yv'),
      lineDs(legendLabels[2], monthly(volLateStart, diffLate, 1000), C_DIFF, 'yv'),
      lineDs(legendLabels[1], monthly(volEarlyStart, productionEarly, 1000), C_PROD, 'yv'),
      lineDs(legendLabels[1], monthly(volLateStart, productionLate, 1000), C_PROD, 'yv'),
      lineDs(legendLabels[0], monthly(volEarlyStart, injectionEarly, 1000), C_INJ, 'yv'),
      lineDs(legendLabels[0], monthly(volLateStart, injectionLate, 1000), C_INJ, 'yv'),
      lineDs('zero', zeroLineYears.map(t => ({ x: t, y: 0 })), C_ZERO, 'yv', { borderDash: [6, 4], borderWidth: 1 })
    ]
  },
  options: baseOpts({ left: 68, right: 59, top: 22, bottom: 12 }, {
    x: { type: 'linear', min: X_MIN, max: X_MAX, display: false },
    yc: { type: 'linear', min: -26, max: 676, display: false },
    yv: { type: 'linear', min: -318800, max: 2078800, display: false }
  }),
  plugins: [rAxes({
    axes: [
      { scale: 'yc', side: 'left', ticks: countTicks, labels: countTickLabels, color: C_CNT, title: 'Number of Earthquakes', titleSize: 19.5, titleShift: -1 },
      { scale: 'yv', side: 'right', ticks: volTicks, labels: volTickLabels, color: '#000', title: 'Volume (kg x 1000)' }
    ],
    extra(chart, ctx, a) {
      ctx.font = '11px ' + FONT; ctx.fillStyle = '#000'; ctx.textAlign = 'center'; ctx.textBaseline = 'middle';
      ctx.fillText(titleText, (a.left + a.right) / 2, 10);
      const items = [
        [legendLabels[0], C_INJ, 0, 0], [legendLabels[1], C_PROD, 0, 1],
        [legendLabels[2], C_DIFF, 1, 0], [legendLabels[3], C_CNT, 1, 1]
      ];
      ctx.font = '12.5px ' + FONT; ctx.textAlign = 'left';
      items.forEach(([txt, col, c, r]) => {
        const x0 = a.left + 12 + c * 195.5, y = a.top + 16 + r * 15;
        ctx.strokeStyle = col; ctx.lineWidth = 1.4;
        ctx.beginPath(); ctx.moveTo(x0, y); ctx.lineTo(x0 + 23, y); ctx.stroke();
        ctx.fillStyle = '#000'; ctx.fillText(txt, x0 + 35, y);
      });
    }
  })]
});

// ---- Panel 2: magnitude
const dotDs = data => ({ data, pointStyle: 'rect', pointRadius: 0.85, pointBorderWidth: 0, backgroundColor: 'rgba(0,0,0,0.9)', pointBackgroundColor: 'rgba(0,0,0,0.9)', showLine: false });
new Chart(document.getElementById('c2'), {
  type: 'scatter',
  data: { datasets: [dotDs([...pairs(mag1982), ...pairs(magLow1982), ...pairs(mag1990), ...pairs(mag2000), ...pairs(magLow2000), ...pairs(mag2008), ...swarms(magSwarms)])] },
  options: baseOpts({ left: 68, right: 59, top: 3, bottom: 4 }, {
    x: { type: 'linear', min: X_MIN, max: X_MAX, display: false },
    y: { type: 'linear', min: -0.216, max: 5.616, display: false }
  }),
  plugins: [rAxes({ axes: [{ scale: 'y', side: 'left', ticks: magTicks, labels: magTickLabels, color: '#000', title: 'Magnitude' }] })]
});

// ---- Panel 3: depth
new Chart(document.getElementById('c3'), {
  type: 'scatter',
  data: { datasets: [dotDs([...pairs(depth1982), ...pairs(depth1990), ...pairs(depth2000), ...pairs(depth2008), ...swarms(depthSwarms)])] },
  options: baseOpts({ left: 68, right: 59, top: 2, bottom: 50 }, {
    x: { type: 'linear', min: X_MIN, max: X_MAX, display: false },
    y: { type: 'linear', min: -29.75, max: 0.65, display: false }
  }),
  plugins: [rAxes({ axes: [
    { scale: 'y', side: 'left', ticks: depthTicks, labels: depthTickLabels, color: '#000', title: 'Depth' },
    { scale: 'x', side: 'bottom', ticks: xTicks, labels: xTicks, color: '#000', title: 'Date' }
  ] })]
});
</script>
</body></html>
